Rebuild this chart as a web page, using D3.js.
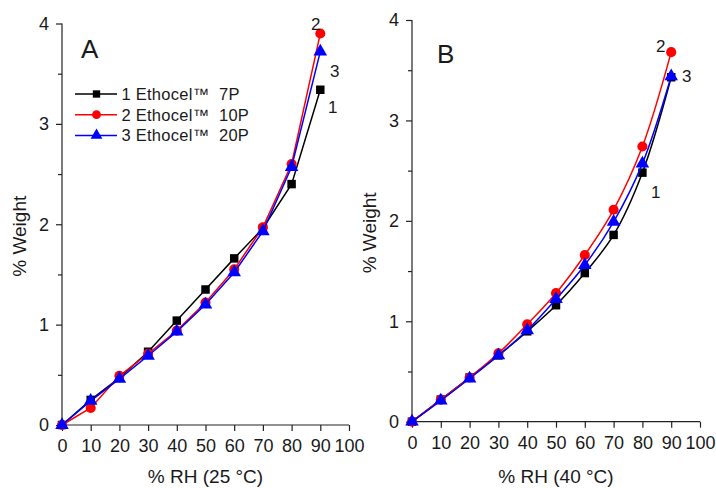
<!DOCTYPE html>
<html>
<head>
<meta charset="utf-8">
<script src="https://cdn.jsdelivr.net/npm/d3@7"></script>
<style>
  body { margin: 0; background: #fff; }
  svg { font-family: "Liberation Sans", Arial, sans-serif; }
</style>
</head>
<body>
<svg id="chart" width="716" height="488"></svg>
<script>
const rh = [0, 10, 20, 30, 40, 50, 60, 70, 80, 90];

// panel A, 25 °C
const a7P = [0, 0.25, 0.47, 0.73, 1.04, 1.35, 1.66, 1.96, 2.40, 3.34];
const a10P = [0, 0.17, 0.49, 0.71, 0.94, 1.22, 1.55, 1.97, 2.60, 3.90];
const a20P = [0, 0.24, 0.46, 0.69, 0.93, 1.20, 1.52, 1.93, 2.57, 3.72];

// panel B, 40 °C
const b7P = [0, 0.22, 0.44, 0.66, 0.90, 1.16, 1.48, 1.86, 2.48, 3.43];
const b10P = [0, 0.22, 0.44, 0.68, 0.97, 1.28, 1.66, 2.11, 2.74, 3.68];
const b20P = [0, 0.21, 0.43, 0.66, 0.91, 1.22, 1.56, 1.99, 2.57, 3.44];

const xTicks = [0, 10, 20, 30, 40, 50, 60, 70, 80, 90, 100];
const yTicks = [0, 1, 2, 3, 4];
const yMinor = [0.5, 1.5, 2.5, 3.5];
const legendLabels = ["1 Ethocel\u2122  7P", "2 Ethocel\u2122  10P", "3 Ethocel\u2122  20P"];

const colors = ["#000000", "#ff0000", "#0000ff"];
const symbols = [d3.symbolSquare, d3.symbolCircle, d3.symbolTriangle];
const symSize = [72, 80, 80];
const ink = "#1a1a1a";

const svg = d3.select("#chart");

function panel(cfg) {
  const x = d3.scaleLinear().domain([0, 100]).range(cfg.xr);
  const y = d3.scaleLinear().domain([0, 4]).range(cfg.yr);
  const g = svg.append("g");

  const xa = g.append("g")
    .attr("transform", `translate(0,${cfg.yr[0]})`)
    .call(d3.axisBottom(x).tickValues(xTicks).tickSize(6).tickPadding(8.5).tickFormat(d3.format("d")));
  const ya = g.append("g")
    .attr("transform", `translate(${cfg.xr[0]},0)`)
    .call(d3.axisLeft(y).tickValues(yTicks).tickSize(6).tickPadding(7).tickFormat(d3.format("d")));
  g.append("g")
    .attr("transform", `translate(${cfg.xr[0]},0)`)
    .call(d3.axisLeft(y).tickValues(yMinor).tickSize(4).tickFormat(""))
    .select(".domain").remove();
  [xa, ya].forEach((a) => {
    a.selectAll("text").attr("font-size", 18).attr("fill", ink).attr("font-family", "Liberation Sans, Arial");
  });
  xa.select(".domain").attr("d", `M${cfg.xr[0]},0H${cfg.xr[1]}`);
  ya.select(".domain").attr("d", `M0,${cfg.yr[0]}V${cfg.yr[1]}`);
  g.selectAll(".domain, .tick line").attr("stroke", "#222").attr("stroke-width", 1.2);

  const line = d3.line()
    .curve(cfg.curve)
    .x((d, i) => x(rh[i]))
    .y((d) => y(d));

  cfg.series.forEach((s, k) => {
    g.append("path")
      .datum(s)
      .attr("fill", "none")
      .attr("stroke", colors[k])
      .attr("stroke-width", 1.5)
      .attr("d", line);
    g.selectAll(null)
      .data(s)
      .enter()
      .append("path")
      .attr("d", d3.symbol().type(symbols[k]).size(symSize[k]))
      .attr("transform", (d, i) => `translate(${x(rh[i])},${y(d)})`)
      .attr("fill", colors[k]);
  });

  g.append("text")
    .attr("x", (cfg.xr[0] + cfg.xr[1]) / 2)
    .attr("y", 483)
    .attr("text-anchor", "middle")
    .attr("font-size", 19)
    .attr("fill", ink)
    .text(cfg.xTitle);
  g.append("text")
    .attr("transform", `translate(${cfg.xr[0] - 36},${(cfg.yr[0] + cfg.yr[1]) / 2 + 12}) rotate(-90)`)
    .attr("text-anchor", "middle")
    .attr("font-size", 19)
    .attr("fill", ink)
    .text("% Weight");
  g.append("text")
    .attr("x", cfg.letter[0])
    .attr("y", cfg.letter[1])
    .attr("font-size", 26)
    .attr("fill", ink)
    .text(cfg.name);
  cfg.numLabels.forEach((p, k) => {
    g.append("text")
      .attr("x", p[0])
      .attr("y", p[1])
      .attr("font-size", 17)
      .attr("fill", ink)
      .text(k + 1);
  });
}

panel({
  name: "A",
  xr: [62, 349],
  yr: [425, 23.5],
  curve: d3.curveLinear,
  series: [a7P, a10P, a20P],
  xTitle: "% RH (25 \u00b0C)",
  letter: [81, 58],
  numLabels: [[328, 113], [311, 30], [330, 77]],
});

panel({
  name: "B",
  xr: [412, 700],
  yr: [421.7, 20],
  curve: d3.curveCatmullRom,
  series: [b7P, b10P, b20P],
  xTitle: "% RH (40 \u00b0C)",
  letter: [437, 63],
  numLabels: [[651, 198], [656, 52], [682, 82]],
});

// legend in panel A
const leg = svg.append("g");
legendLabels.forEach((t, k) => {
  const ly = 94 + k * 20.7;
  leg.append("line")
    .attr("x1", 75).attr("x2", 117)
    .attr("y1", ly).attr("y2", ly)
    .attr("stroke", colors[k]).attr("stroke-width", 1.5);
  leg.append("path")
    .attr("d", d3.symbol().type(symbols[k]).size(symSize[k] * 0.75))
    .attr("transform", `translate(96.5,${ly})`)
    .attr("fill", colors[k]);
  leg.append("text")
    .attr("x", 121.5)
    .attr("y", ly + 6)
    .attr("font-size", 16.5)
    .attr("letter-spacing", 0.25)
    .attr("fill", ink)
    .style("white-space", "pre")
    .text(t);
});
</script>
</body>
</html>
